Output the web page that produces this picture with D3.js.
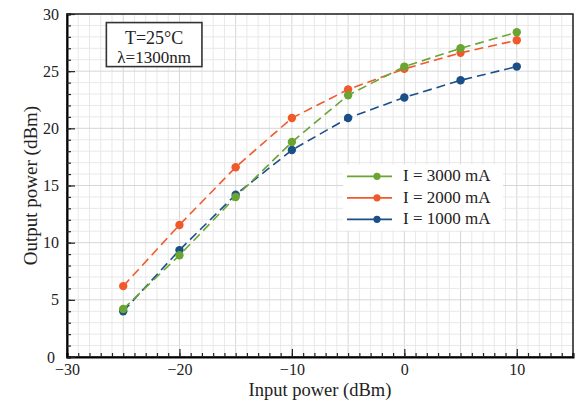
<!DOCTYPE html>
<html>
<head>
<meta charset="utf-8">
<script src="https://cdn.jsdelivr.net/npm/d3@7"></script>
<style>
  body { margin: 0; background: #fff; }
  text { font-family: "Liberation Serif", "Times New Roman", serif; }
</style>
</head>
<body>
<div id="chart"></div>
<script>
// data
var inputPower = [-25, -20, -15, -10, -5, 0, 5, 10];
var out3000 = [4.2, 8.9, 14.0, 18.8, 22.9, 25.4, 27.0, 28.4];
var out2000 = [6.2, 11.55, 16.6, 20.9, 23.4, 25.2, 26.6, 27.7];
var out1000 = [4.0, 9.35, 14.2, 18.1, 20.9, 22.7, 24.2, 25.4];
var seriesNames = ["I = 3000 mA", "I = 2000 mA", "I = 1000 mA"];
var seriesColors = ["#6aa532", "#f2592a", "#1b4f87"];
var xTicks = [-30, -20, -10, 0, 10];
var yTicks = [0, 5, 10, 15, 20, 25, 30];

var W = 576, H = 403;
var margin = {top: 14, right: 3, bottom: 46, left: 67},
    width = W - margin.left - margin.right,
    height = H - margin.top - margin.bottom;
var serif = "'Liberation Serif', 'Times New Roman', serif";

var svg = d3.select("#chart").append("svg")
    .attr("width", W)
    .attr("height", H);
var g = svg.append("g")
    .attr("transform", "translate(" + margin.left + "," + margin.top + ")");

var x = d3.scaleLinear().domain([-30, 15]).range([0, width]);
var y = d3.scaleLinear().domain([0, 30]).range([height, 0]);

// grid, every unit with darker majors
var minorX = d3.range(-30, 16, 1), minorY = d3.range(0, 31, 1);
g.append("g").selectAll("line").data(minorX).enter().append("line")
    .attr("x1", d => x(d)).attr("x2", d => x(d))
    .attr("y1", 0).attr("y2", height)
    .attr("stroke", d => d % 5 == 0 ? "#d6d6d6" : "#e8e8e8")
    .attr("stroke-width", 1);
g.append("g").selectAll("line").data(minorY).enter().append("line")
    .attr("y1", d => y(d)).attr("y2", d => y(d))
    .attr("x1", 0).attr("x2", width)
    .attr("stroke", d => d % 5 == 0 ? "#d6d6d6" : "#e8e8e8")
    .attr("stroke-width", 1);

// frame
g.append("rect")
    .attr("width", width).attr("height", height)
    .attr("fill", "none").attr("stroke", "#222").attr("stroke-width", 1.5);

// axes: inward ticks
var xAxis = g.append("g").attr("transform", "translate(0," + height + ")");
xAxis.call(d3.axisBottom(x).tickValues(minorX).tickSize(-4).tickFormat(""))
    .call(a => a.select(".domain").attr("stroke-width", 2));
xAxis.append("g").call(d3.axisBottom(x).tickValues(xTicks).tickSize(-8).tickPadding(7)
        .tickFormat(d => d < 0 ? "\u2212" + Math.abs(d) : d))
    .call(a => a.select(".domain").remove())
    .selectAll("text").style("font-size", "16px").attr("fill", "#222")
    .style("font-family", serif);

var yAxis = g.append("g");
yAxis.call(d3.axisLeft(y).tickValues(minorY).tickSize(-4).tickFormat(""))
    .call(a => a.select(".domain").attr("stroke-width", 2));
yAxis.append("g").call(d3.axisLeft(y).tickValues(yTicks).tickSize(-8).tickPadding(8))
    .call(a => a.select(".domain").remove())
    .selectAll("text").style("font-size", "16px").attr("fill", "#222")
    .style("font-family", serif)
    .attr("dx", d => d == 0 ? -4 : 0); // keep the corner "0" clear of "−30"
g.selectAll(".tick line").attr("stroke", "#222").attr("stroke-width", 1.2);

// axis titles
svg.append("text")
    .attr("x", margin.left + x(-7.5)).attr("y", 396)
    .attr("text-anchor", "middle")
    .style("font-size", "18.5px").style("font-family", serif).attr("fill", "#222")
    .text("Input power (dBm)");
svg.append("text")
    .attr("transform", "translate(37," + (margin.top + y(15)) + ") rotate(-90)")
    .attr("text-anchor", "middle")
    .style("font-size", "19px").style("font-family", serif).attr("fill", "#222")
    .text("Output power (dBm)");

// lines + markers
var allSeries = [out3000, out2000, out1000];
var line = d3.line()
    .x((d, i) => x(inputPower[i]))
    .y(d => y(d));
// draw 1000 first so 3000 sits on top
[2, 1, 0].forEach(function(k) {
  g.append("path")
      .datum(allSeries[k])
      .attr("d", line)
      .attr("fill", "none")
      .attr("stroke", seriesColors[k])
      .attr("stroke-width", 1.6)
      .attr("stroke-dasharray", "9,5");
  g.append("g").selectAll("circle").data(allSeries[k]).enter().append("circle")
      .attr("cx", (d, i) => x(inputPower[i]))
      .attr("cy", d => y(d))
      .attr("r", 4.2)
      .attr("fill", seriesColors[k]);
});

// annotation box
var ann = g.append("g");
ann.append("rect")
    .attr("x", x(-26.5)).attr("y", y(29.25))
    .attr("width", x(-18) - x(-26.5)).attr("height", y(25.4) - y(29.25))
    .attr("fill", "#fff").attr("stroke", "#333").attr("stroke-width", 1.6);
ann.append("text")
    .attr("x", x(-22.25)).attr("y", y(27.4))
    .attr("text-anchor", "middle").style("font-size", "18px").style("font-family", serif)
    .attr("fill", "#222")
    .text("T=25°C");
ann.append("text")
    .attr("x", x(-22.25)).attr("y", y(25.7))
    .attr("text-anchor", "middle").style("font-size", "17px").style("font-family", serif)
    .attr("fill", "#222")
    .text("λ=1300nm");

// legend
var leg = g.append("g")
    .attr("transform", "translate(" + x(-5.1) + "," + y(15.8) + ")");
leg.append("rect")
    .attr("x", -4).attr("y", -12)
    .attr("width", 160).attr("height", 66)
    .attr("fill", "#fff");
var item = leg.selectAll(".legend").data(seriesNames).enter().append("g")
    .attr("transform", (d, i) => "translate(0," + i * 21.5 + ")");
item.append("line")
    .attr("x1", 0).attr("x2", 45)
    .attr("stroke", (d, i) => seriesColors[i]).attr("stroke-width", 1.6);
item.append("circle")
    .attr("cx", 30).attr("r", 3.6)
    .attr("fill", (d, i) => seriesColors[i]);
item.append("text")
    .attr("x", 56).attr("y", 5)
    .style("font-size", "17px").style("font-family", serif).attr("fill", "#222")
    .text(d => d);
</script>
</body>
</html>
